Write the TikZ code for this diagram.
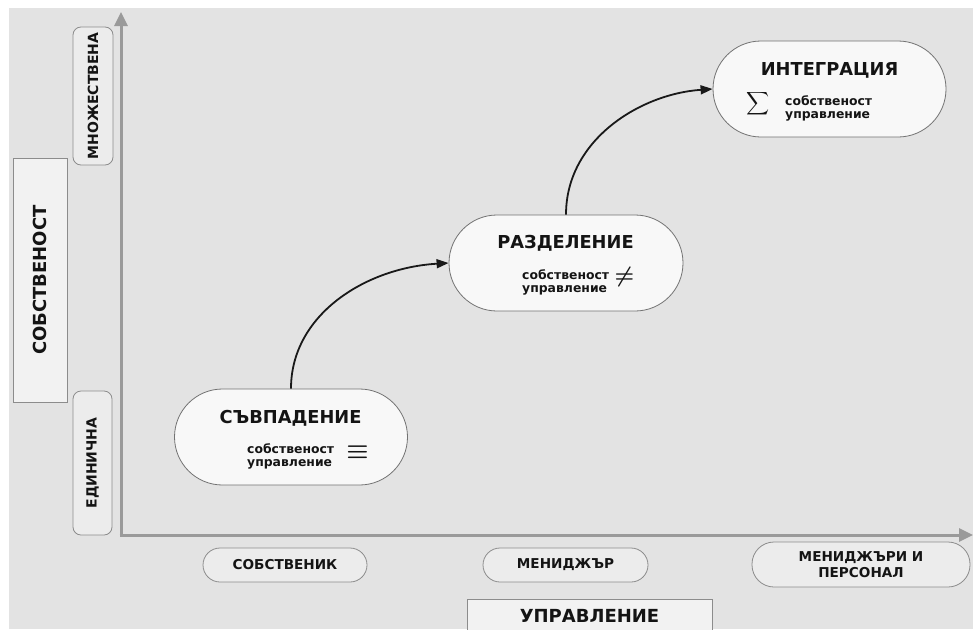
\documentclass[tikz,border=0pt]{standalone}
\usepackage{fontspec}
\setmainfont{DejaVu Sans}
\usetikzlibrary{arrows.meta}
\definecolor{bgc}{HTML}{E3E3E3}
\definecolor{nodefill}{HTML}{F8F8F8}
\definecolor{nodeline}{HTML}{727272}
\definecolor{boxfill}{HTML}{ECECEC}
\definecolor{boxline}{HTML}{8C8C8C}
\definecolor{axisc}{HTML}{9A9A9A}
\definecolor{txt}{HTML}{141414}
\tikzset{
  stage/.style={draw=nodeline, fill=nodefill, line width=0.8pt, rounded corners=48pt,
    minimum width=233pt, minimum height=96pt, inner sep=0pt},
  ttl/.style={anchor=base, inner sep=0pt, text=txt, font=\fontsize{17.8}{20}\selectfont\bfseries},
  sub/.style={anchor=base west, inner sep=0pt, text=txt, font=\fontsize{12.4}{13}\selectfont\bfseries},
  sym/.style={inner sep=0pt, text=txt},
  vlab/.style={draw=boxline, fill=boxfill, line width=0.8pt, rounded corners=8pt, inner sep=0pt,
    rotate=90, text=txt, font=\fontsize{14}{15}\selectfont\bfseries},
  hlab/.style={draw=boxline, fill=boxfill, line width=0.8pt, inner sep=0pt, align=center,
    text=txt, font=\fontsize{13.6}{16}\selectfont\bfseries},
  bigbox/.style={draw=boxline, fill=boxfill!70!white, line width=0.8pt, inner sep=0pt,
    text=txt, font=\fontsize{18}{20}\selectfont\bfseries},
  axis/.style={draw=axisc, line width=3pt, -{Triangle[length=14pt,width=13pt]}},
  flow/.style={draw=black!90, line width=1.8pt, -{Triangle[length=12pt,width=9pt]}}
}
\begin{document}
\begin{tikzpicture}[x=1pt,y=-1pt]
\useasboundingbox (0,0) rectangle (973,629);
\begin{scope}
\clip (0,0) rectangle (973,629);
\fill[bgc] (9,8) rectangle (973,629);

% axes
\coordinate (o) at (121,535);
\coordinate (ytop) at (121,12);
\coordinate (xend) at (973,535);
\draw[axis] (o) -- (ytop);
\draw[axis] ([xshift=-1.5pt]o) -- (xend);

% vertical labels
\node[vlab, minimum width=138pt, minimum height=40pt] (mn) at (93,96) {МНОЖЕСТВЕНА};
\node[vlab, minimum width=144pt, minimum height=39pt] (ed) at (92.5,463) {ЕДИНИЧНА};
\node[bigbox, rotate=90, minimum width=244pt, minimum height=54pt] (sob) at (40,280) {СОБСТВЕНОСТ};

% horizontal labels
\node[hlab, rounded corners=17pt, minimum width=164pt, minimum height=34pt] (h1) at (285,565) {СОБСТВЕНИК};
\node[hlab, rounded corners=17pt, minimum width=165pt, minimum height=34pt] (h2) at (565.5,565) {МЕНИДЖЪР};
\node[hlab, rounded corners=22pt, minimum width=218pt, minimum height=45pt] (h3) at (861,564.5) {МЕНИДЖЪРИ И\\ПЕРСОНАЛ};
\node[bigbox, minimum width=245pt, minimum height=46pt] (ubox) at (589.5,622) {\phantom{У}};
\node[anchor=base, inner sep=0pt, text=txt, font=\fontsize{18}{20}\selectfont\bfseries] (utxt) at (589.5,622) {УПРАВЛЕНИЕ};

% stages
\node[stage] (n1) at (291,437) {};
\node[ttl] (t1) at (290.5,423.3) {СЪВПАДЕНИЕ};
\node[sub] (s1a) at (247,453) {собственост};
\node[sub] (s1b) at (247,466) {управление};
\node[sym] (q1) at (357.5,452) {\scalebox{2.5}{\boldmath$\equiv$}};

\node[stage, minimum width=234pt] (n2) at (566,263) {};
\node[ttl] (t2) at (565.5,248.3) {РАЗДЕЛЕНИЕ};
\node[sub] (s2a) at (522,279.3) {собственост};
\node[sub] (s2b) at (522,292.7) {управление};
\node[sym] (q2) at (624.5,277) {\scalebox{2.2}{\boldmath$\neq$}};

\node[stage] (n3) at (829.5,89) {};
\node[ttl] (t3) at (829.5,75.7) {ИНТЕГРАЦИЯ};
\node[sym] (q3) at (758.5,104) {\scalebox{1.6}{$\displaystyle\sum$}};
\node[sub] (s3a) at (785,105) {собственост};
\node[sub] (s3b) at (785,118.7) {управление};

% flow arrows
\draw[flow] (n1.north) .. controls (291,315) and (365,268) .. (n2.west);
\draw[flow] (n2.north) .. controls (566,140) and (640,94) .. (n3.west);
\end{scope}
\end{tikzpicture}
\end{document}
